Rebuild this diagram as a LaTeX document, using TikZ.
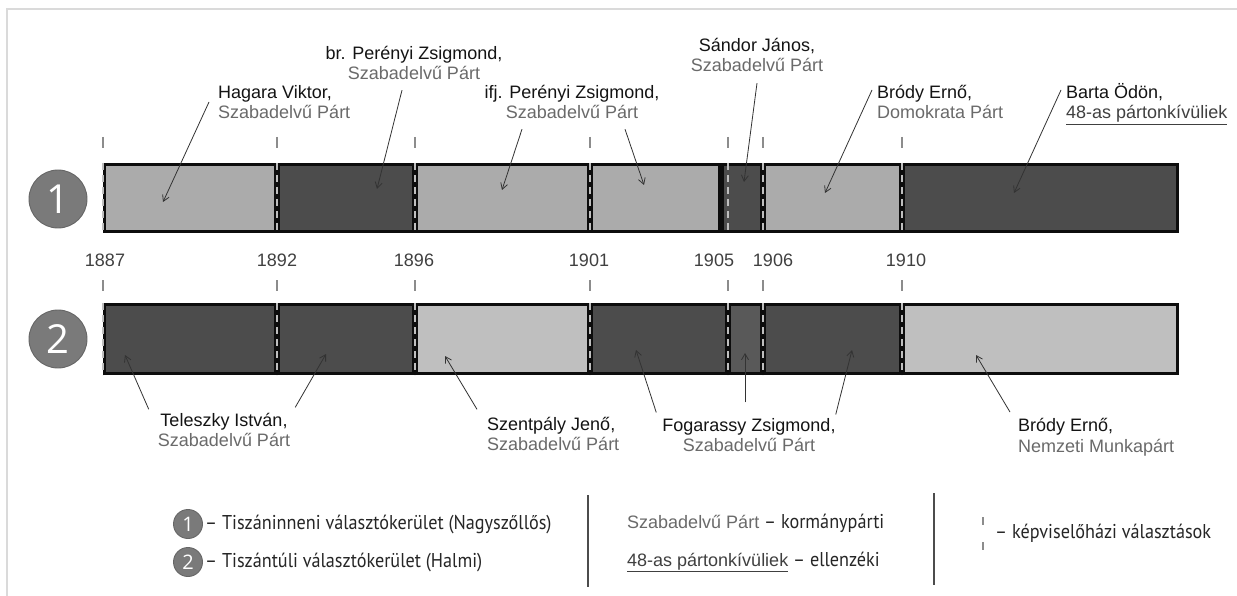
\documentclass[tikz,border=0pt]{standalone}
\usepackage{fontspec}
\setmainfont{Liberation Sans}
\newfontfamily\legendfont[FakeStretch=0.91]{PT Sans}
\newfontfamily\digitfont{Open Sans}
\usetikzlibrary{arrows.meta}
\definecolor{segLight}{HTML}{ABABAB}
\definecolor{segPale}{HTML}{BFBFBF}
\definecolor{segDark}{HTML}{4C4C4C}
\definecolor{segMid}{HTML}{595959}
\definecolor{partyGray}{HTML}{6A6A6A}
\definecolor{inkGray}{HTML}{141414}
\definecolor{discGray}{HTML}{7A7A7A}
\definecolor{frameGray}{HTML}{DADADA}
\newcommand{\party}[1]{\textcolor{partyGray}{#1}}
\newcommand{\opposition}[1]{\textcolor{black!75}{\underline{#1}}}
\tikzset{
	segbox/.style={draw=black!95, line width=3pt},
	yearline/.style={draw=black!25, line width=1.3pt, dash pattern=on 7pt off 5pt},
	yeartick/.style={draw=black!45, line width=1.2pt},
	yearlabel/.style={text=black!75, font=\fontsize{18}{20}\selectfont, inner sep=0pt},
	mp/.style={text=inkGray, font=\fontsize{18}{20.5}\selectfont, inner sep=0pt},
	pointer/.style={draw=black!80, line width=0.8pt, -{Straight Barb[length=6pt,width=7pt]}},
	disc/.style={circle, fill=discGray, draw=black!60, line width=0.9pt, text=white, inner sep=0pt},
	legendtext/.style={font=\legendfont\fontsize{20}{24}\selectfont, text=black!85, inner sep=0pt, anchor=west},
	divider/.style={draw=black!70, line width=1.2pt},
}
\begin{document}
\begin{tikzpicture}[x=1pt, y=-1pt]
	\useasboundingbox (0,0) rectangle (1237,596);
	\fill [white] (0,0) rectangle (1237,596);
	\draw [frameGray, line width=1.5pt] (7,596) -- (7,9) -- (1237,9);

	\foreach \a/\b/\c in {103/277/segLight, 277/415/segDark, 415/590/segLight, 590/721/segLight, 721/763/segDark, 763/902/segLight, 902/1179/segDark} {
		\draw [segbox, fill=\c] (\a+1.5,164.5) rectangle (\b-1.5,231.5);
	};
	\foreach \a/\b/\c in {103/277/segDark, 277/415/segDark, 415/590/segPale, 590/728/segDark, 728/763/segMid, 763/902/segDark, 902/1179/segPale} {
		\draw [segbox, fill=\c] (\a+1.5,304.5) rectangle (\b-1.5,373.5);
	};
	\foreach \x in {103, 277, 415, 590, 728, 763, 902} {
		\draw [yeartick] (\x,137) -- (\x,148);
		\draw [yeartick] (\x,280) -- (\x,291);
		\draw [yearline] (\x,163) -- (\x,233);
		\draw [yearline] (\x,303) -- (\x,375);
	};
	\foreach \x/\yr in {105/1887, 277/1892, 414/1896, 589/1901, 714/1905, 773/1906, 906/1910} {
		\node [yearlabel] (y\yr) at (\x,260) {\yr};
	};

	\node [disc, minimum size=58pt, font=\digitfont\fontsize{40}{40}\selectfont] (district1) at (58,199) {1};
	\node [disc, minimum size=58pt, font=\digitfont\fontsize{40}{40}\selectfont] (district2) at (58,339) {2};

	\node [mp, anchor=west, align=left] (hagara) at (218,102) {Hagara Viktor,\\\party{Szabadelvű Párt}};
	\node [mp, align=center] (bperenyi) at (414,63) {br. Perényi Zsigmond,\\\party{Szabadelvű Párt}};
	\node [mp, align=center] (ifjperenyi) at (572,102) {ifj. Perényi Zsigmond,\\\party{Szabadelvű Párt}};
	\node [mp, align=center] (sandor) at (757,55) {Sándor János,\\\party{Szabadelvű Párt}};
	\node [mp, anchor=west, align=left] (brodyA) at (877,102) {Bródy Ernő,\\\party{Domokrata Párt}};
	\node [mp, anchor=west, align=left] (barta) at (1066,104) {Barta Ödön,\\\opposition{48-as pártonkívüliek}};
	\node [mp, align=center] (teleszky) at (224,430) {Teleszky István,\\\party{Szabadelvű Párt}};
	\node [mp, anchor=west, align=left] (szentpaly) at (487,434) {Szentpály Jenő,\\\party{Szabadelvű Párt}};
	\node [mp, align=center] (fogarassy) at (749,435) {Fogarassy Zsigmond,\\\party{Szabadelvű Párt}};
	\node [mp, anchor=west, align=left] (brodyB) at (1018,437) {Bródy Ernő,\\\party{Nemzeti Munkapárt}};

	\coordinate (hagaraTip) at (163,202);
	\coordinate (bperenyiTip) at (377,189);
	\coordinate (ifjTipA) at (502,190);
	\coordinate (ifjTipB) at (644,185);
	\coordinate (sandorTip) at (744,182);
	\coordinate (brodyATip) at (825,193);
	\coordinate (bartaTip) at (1014,193);
	\coordinate (teleszkyTipA) at (125,355);
	\coordinate (teleszkyTipB) at (326,354);
	\coordinate (szentpalyTip) at (445,356);
	\coordinate (fogarassyTipA) at (636,350);
	\coordinate (fogarassyTipB) at (745,353);
	\coordinate (fogarassyTipC) at (852,350);
	\coordinate (brodyBTip) at (976,355);

	\draw [pointer] ([xshift=-9pt]hagara.west) -- (hagaraTip);
	\draw [pointer] ([xshift=-12pt,yshift=-10pt]bperenyi.south) -- (bperenyiTip);
	\draw [pointer] ([xshift=-50pt,yshift=-10pt]ifjperenyi.south) -- (ifjTipA);
	\draw [pointer] ([xshift=53pt,yshift=-10pt]ifjperenyi.south) -- (ifjTipB);
	\draw [pointer] ([yshift=-11pt]sandor.south) -- (sandorTip);
	\draw [pointer] ([xshift=-5pt,yshift=12pt]brodyA.west) -- (brodyATip);
	\draw [pointer] ([xshift=-5pt,yshift=14pt]barta.west) -- (bartaTip);
	\draw [pointer] ([xshift=-9pt,yshift=3.5pt]teleszky.north west) -- (teleszkyTipA);
	\draw [pointer] ([xshift=5pt,yshift=5.5pt]teleszky.north east) -- (teleszkyTipB);
	\draw [pointer] ([xshift=-10pt,yshift=7.5pt]szentpaly.north west) -- (szentpalyTip);
	\draw [pointer] ([xshift=-6pt,yshift=5.5pt]fogarassy.north west) -- (fogarassyTipA);
	\draw [pointer] ([xshift=-4pt,yshift=15.5pt]fogarassy.north) -- (fogarassyTipB);
	\draw [pointer] ([yshift=3.5pt]fogarassy.north east) -- (fogarassyTipC);
	\draw [pointer] ([xshift=-8pt,yshift=6pt]brodyB.north west) -- (brodyBTip);

	\node [disc, minimum size=29pt, font=\digitfont\fontsize{20}{20}\selectfont] (key1) at (188,524) {1};
	\node [legendtext] (key1text) at (205,524) {– Tiszáninneni választókerület (Nagyszőllős)};
	\node [disc, minimum size=29pt, font=\digitfont\fontsize{20}{20}\selectfont] (key2) at (188,562) {2};
	\node [legendtext] (key2text) at (205,562) {– Tiszántúli választókerület (Halmi)};
	\draw [divider] (588,495) -- (588,587);
	\node [legendtext] (keyGov) at (627,523) {{\rmfamily\fontsize{18}{20}\selectfont\party{Szabadelvű Párt}} – kormánypárti};
	\node [legendtext] (keyOpp) at (627,562) {{\rmfamily\fontsize{18}{20}\selectfont\opposition{48-as pártonkívüliek}} – ellenzéki};
	\draw [divider] (934,493) -- (934,585);
	\draw [yeartick] (983,517) -- (983,525);
	\draw [yeartick] (983,542) -- (983,550);
	\node [legendtext] (keyVote) at (995,533) {– képviselőházi választások};
\end{tikzpicture}
\end{document}
